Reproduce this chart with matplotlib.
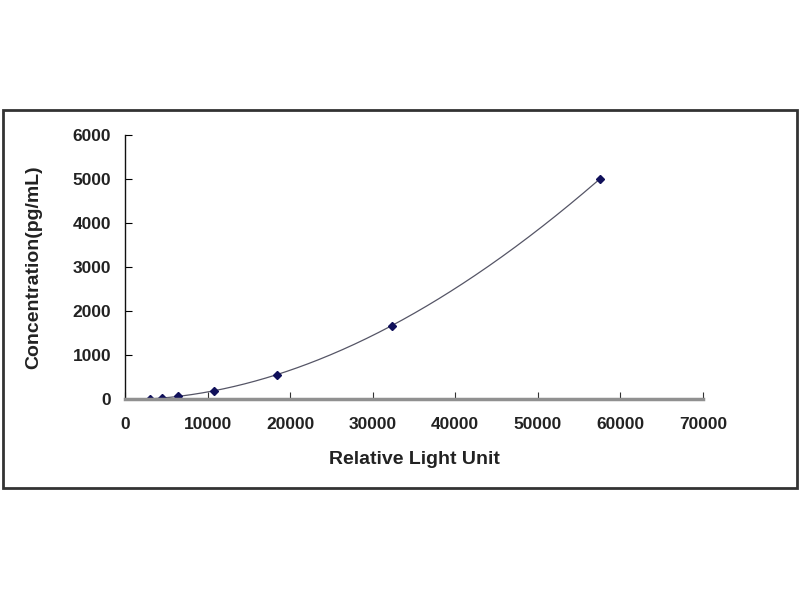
import numpy as np
import matplotlib.pyplot as plt
from matplotlib.patches import Rectangle

# standard curve points
rlu = [3000, 4450, 6400, 10800, 18400, 32300, 57500]
conc = [0, 20.6, 61.7, 185.2, 555.6, 1666.7, 5000]

x_ticks = [0, 10000, 20000, 30000, 40000, 50000, 60000, 70000]
y_ticks = [0, 1000, 2000, 3000, 4000, 5000, 6000]

plt.rcParams['font.family'] = ['Liberation Sans', 'DejaVu Sans']
plt.rcParams['font.weight'] = 'bold'

fig = plt.figure(figsize=(8, 6), dpi=100)
fig.patches.append(Rectangle((3 / 800, 1 - 488 / 600), 794 / 800, 378 / 600,
                             transform=fig.transFigure, fill=False,
                             edgecolor='#333333', linewidth=2))

ax = fig.add_axes([125 / 800, 1 - 399 / 600, 578 / 800, 264 / 600])

# fitted curve through the points
coef = np.polyfit(rlu, conc, 3)
xs = np.linspace(min(rlu), max(rlu), 300)
ax.plot(xs, np.polyval(coef, xs), color='#555566', linewidth=0.9)
ax.plot(rlu, conc, 'D', color='#10105a', markersize=4)

ax.set_xlim(0, 70000)
ax.set_ylim(0, 6000)
ax.set_xticks(x_ticks)
ax.set_yticks(y_ticks)
ax.tick_params(axis='both', direction='in', length=5, labelsize=12.5)
ax.tick_params(axis='x', color='#333333', pad=13)
ax.tick_params(axis='y', pad=10)
for lab in ax.get_xticklabels() + ax.get_yticklabels():
    lab.set_fontweight('bold')
    lab.set_color('#222222')

ax.spines['top'].set_visible(False)
ax.spines['right'].set_visible(False)
ax.spines['left'].set_color('#111111')
ax.spines['left'].set_linewidth(1)
ax.spines['bottom'].set_color('#909090')
ax.spines['bottom'].set_linewidth(2.5)

ax.set_xlabel('Relative Light Unit', fontsize=14, fontweight='bold',
              color='#222222', labelpad=14)
ax.set_ylabel('Concentration(pg/mL)', fontsize=14, fontweight='bold',
              color='#222222', labelpad=22)

fig.savefig('out.png')
